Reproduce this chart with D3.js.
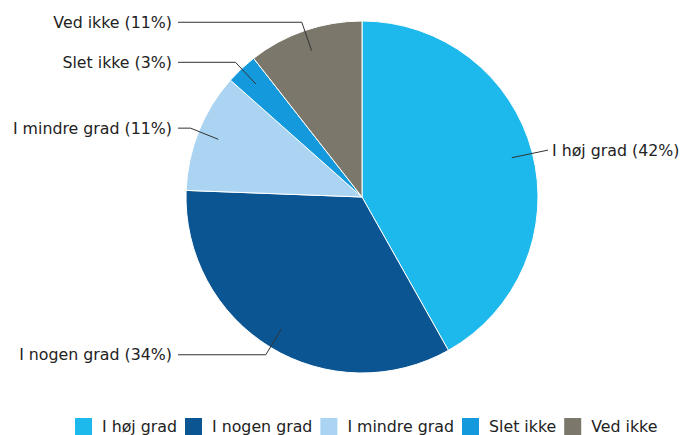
<!DOCTYPE html>
<html><head><meta charset="utf-8">
<script src="https://cdn.jsdelivr.net/npm/d3@7"></script>
<style>body{margin:0;background:#fff}svg{display:block}text{font-family:"DejaVu Sans",Verdana,sans-serif;font-size:15.8px;fill:#222}</style>
</head><body><svg id="c" width="684" height="435"></svg>
<script>
const categories = ["I høj grad","I nogen grad","I mindre grad","Slet ikke","Ved ikke"];
const values = [42.0, 33.9, 11.0, 2.9, 10.6];
const percentLabels = ["42%","34%","11%","3%","11%"];
const colors = ["#1db9ec","#0b5592","#aad4f2","#1399dc","#7b776a"];

const svg = d3.select("#c");
const cx = 362, cy = 197, R = 176;
const g = svg.append("g").attr("transform",`translate(${cx},${cy})`);
const pie = d3.pie().sort(null).value(d=>d)(values);
const arc = d3.arc().innerRadius(0).outerRadius(R);
g.selectAll("path.s").data(pie).join("path").attr("class","s")
  .attr("d",arc).attr("fill",(d,i)=>colors[i]).attr("stroke","#fff").attr("stroke-width",1);

const innerArc = d3.arc().innerRadius(R*0.88).outerRadius(R*0.88);
const elbowArc = d3.arc().innerRadius(R*1.05).outerRadius(R*1.05);
pie.forEach((d,i)=>{
  const mid=(d.startAngle+d.endAngle)/2;
  const p1=innerArc.centroid(d), p2=elbowArc.centroid(d);
  const right = mid < Math.PI;
  const tx = right ? 190 : -190;
  const lineEnd = right ? tx-4 : tx+6;
  let pts;
  if (right) pts=[p1,[lineEnd,p2[1]]];
  else pts=[p1,p2,[lineEnd,p2[1]]];
  g.append("polyline").attr("points",pts.map(p=>p.join(",")).join(" "))
    .attr("fill","none").attr("stroke","#333").attr("stroke-width",1);
  g.append("text").attr("x",tx).attr("y",p2[1]).attr("dy","0.35em")
    .attr("text-anchor",right?"start":"end").text(`${categories[i]} (${percentLabels[i]})`);
});

// legend
const lg = svg.append("g").attr("transform","translate(0,426)");
let x = 75;
categories.forEach((c,i)=>{
  lg.append("rect").attr("x",x).attr("y",-8).attr("width",17).attr("height",17).attr("fill",colors[i]);
  const t=lg.append("text").attr("x",x+27).attr("y",0).attr("dy","0.35em").text(c);
  x += 27 + t.node().getComputedTextLength() + 8;
});
</script></body></html>
